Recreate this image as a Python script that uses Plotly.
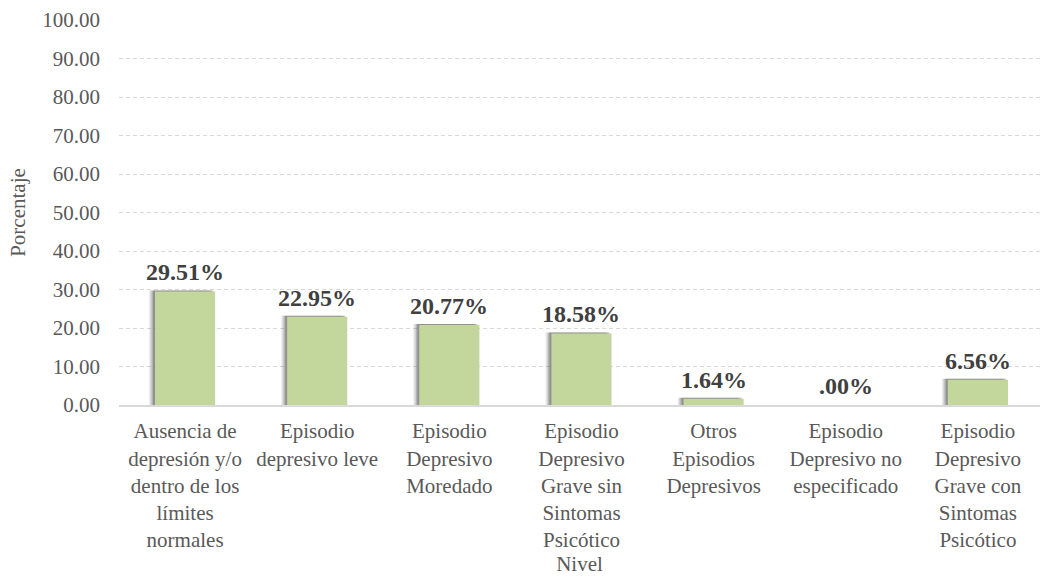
import plotly.graph_objects as go

categories = [
    "Ausencia de<br>depresión y/o<br>dentro de los<br>límites<br>normales",
    "Episodio<br>depresivo leve",
    "Episodio<br>Depresivo<br>Moredado",
    "Episodio<br>Depresivo<br>Grave sin<br>Sintomas<br>Psicótico",
    "Otros<br>Episodios<br>Depresivos",
    "Episodio<br>Depresivo no<br>especificado",
    "Episodio<br>Depresivo<br>Grave con<br>Sintomas<br>Psicótico",
]
values = [29.51, 22.95, 20.77, 18.58, 1.64, 0.00, 6.56]
value_labels = ["29.51%", "22.95%", "20.77%", "18.58%", "1.64%", ".00%", "6.56%"]
y_ticks = [0, 10, 20, 30, 40, 50, 60, 70, 80, 90, 100]

FONT = "Liberation Serif"
BAR_W = 0.455

fig = go.Figure()

# soft drop shadow behind each bar (stacked translucent layers, shifted left)
for dx, alpha in [(-0.045, 0.10), (-0.035, 0.14), (-0.025, 0.20), (-0.015, 0.28)]:
    fig.add_trace(go.Bar(
        x=list(range(len(values))), y=[v + 0.25 if v > 0 else 0 for v in values],
        width=BAR_W, offset=-BAR_W / 2 + dx,
        marker=dict(color=f"rgba(60,60,60,{alpha})", line=dict(width=0)),
        hoverinfo="skip", showlegend=False,
    ))

fig.add_trace(go.Bar(
    x=list(range(len(values))), y=values,
    width=BAR_W, offset=-BAR_W / 2,
    marker=dict(color="#C3D69B", line=dict(width=0)),
    showlegend=False,
))

for i, (v, t) in enumerate(zip(values, value_labels)):
    fig.add_annotation(
        x=i, y=v, text=f"<b>{t}</b>", showarrow=False,
        yanchor="bottom", yshift=4,
        font=dict(family=FONT, size=24, color="#404040"),
    )

fig.update_layout(
    barmode="overlay",
    width=1040, height=579,
    margin=dict(l=119, r=0, t=20, b=174),
    paper_bgcolor="white", plot_bgcolor="white",
    font=dict(family=FONT, color="#595959"),
    xaxis=dict(
        tickmode="array", tickvals=list(range(len(values))), ticktext=categories,
        range=[-0.5, len(values) - 0.53],
        tickfont=dict(family=FONT, size=21, color="#595959"),
        showgrid=False, zeroline=False,
        showline=True, linecolor="#D9D9D9", linewidth=2,
        ticks="", ticklabelstandoff=6,
        title=dict(text="Nivel", font=dict(family=FONT, size=21, color="#595959"), standoff=2),
    ),
    yaxis=dict(
        range=[0, 100], tickmode="array", tickvals=y_ticks,
        tickformat=".2f",
        tickfont=dict(family=FONT, size=21, color="#595959"),
        showgrid=True, gridcolor="#D9D9D9", griddash="4px,3px", gridwidth=1,
        zeroline=False, showline=False, ticks="", ticklabelstandoff=18,
        title=dict(text="Porcentaje", font=dict(family=FONT, size=21, color="#595959"), standoff=10),
    ),
)

fig.write_html("out.html")
